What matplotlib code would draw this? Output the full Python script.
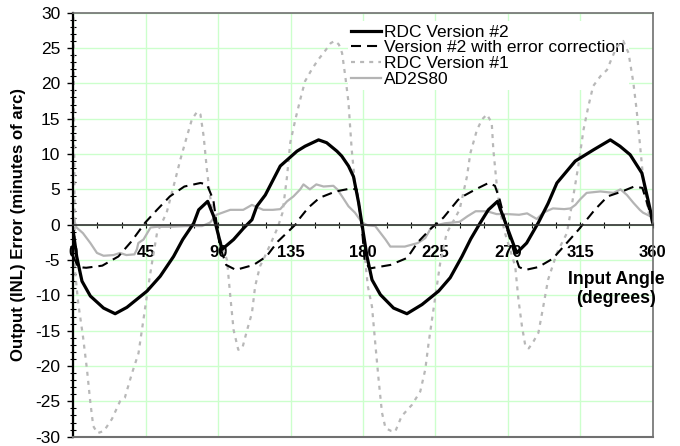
import matplotlib.pyplot as plt
from matplotlib.ticker import MultipleLocator

plt.rcParams['font.family'] = ['Liberation Sans', 'DejaVu Sans']
plt.rcParams['axes.unicode_minus'] = False

# RDC Version #2 (solid black)
v2_x = [0, 2.1, 5.4, 10.6, 18.8, 26, 33.3, 45.8, 54, 62.3, 68, 74.8, 77.9, 83.5, 87.2, 92.4,
        99.6, 105.8, 111, 114, 119.3, 128.6, 139, 144, 152.4, 157.4, 163.8, 166.8, 171, 174.1,
        177.3, 179.4, 182.5, 185.6, 190.8, 199, 207.3, 216.7, 227, 234.2, 241.5, 247, 252.7,
        257.9, 263.6, 267, 275.5, 281.7, 289, 295, 300.5, 311.9, 316.9, 323.3, 333.7, 339.7,
        346, 353.3, 357.5, 360]
v2_y = [-1.0, -4.5, -8.0, -10.1, -11.8, -12.6, -11.7, -9.4, -7.3, -4.5, -2.1, 0.2, 2.1, 3.3, 1.2, -3.5,
        -2.1, -0.5, 0.7, 2.6, 4.2, 8.3, 10.4, 11.1, 12.0, 11.6, 10.4, 9.7, 8.3, 6.8,
        3.1, 0.0, -4.5, -7.8, -9.9, -11.8, -12.6, -11.3, -9.4, -7.5, -4.5, -2.0, 0.2,
        2.1, 3.3, 1.2, -4.0, -2.6, 0.3, 3.0, 5.9, 9.0, 9.7, 10.6, 12.0, 11.1,
        9.9, 7.3, 3.1, 0.5]

# Version #2 with error correction (dashed black)
corr_x = [0, 3, 8, 18, 28, 36, 44.7, 52, 60, 69, 79, 83, 87, 91, 95, 101, 112, 120, 127, 138,
          140, 146, 153, 163, 172, 176, 179, 181, 184, 197, 207.5, 214, 222, 230, 239, 242, 250,
          258, 262, 265, 270, 274, 277, 281, 289, 298, 314, 319, 324, 332, 341, 348.5, 353.6,
          358, 360]
corr_y = [-4.5, -6.0, -6.1, -5.8, -4.5, -2.4, 0.3, 2.1, 4.0, 5.4, 5.9, 5.7, 3.5, -3.0, -5.7, -6.4,
          -5.7, -4.5, -2.4, 0.0, 0.7, 2.4, 3.8, 4.7, 5.1, 5.0, 0.5, -5.0, -6.2, -5.7, -4.7, -2.5,
          -0.6, 1.0, 3.5, 4.0, 5.0, 5.9, 5.5, 3.5, -1.0, -4.0, -6.0, -6.4, -6.0, -4.8, -0.7, 0.7,
          2.1, 4.0, 4.7, 5.4, 5.2, 2.0, 0.0]

# RDC Version #1 (dotted grey)
v1_x = [0, 1, 3, 6, 8.5, 10.6, 12.4, 15, 19, 24, 29, 32, 36.5, 40.5, 43.6, 46.6, 48.9, 52, 58,
        63.4, 66.5, 70.6, 73.7, 77, 79, 81, 83, 85, 87, 91, 95.5, 97.5, 99.6, 102.5, 105, 108,
        111, 113, 116, 119, 123, 127, 130, 132.8, 134.8, 138, 141, 144, 148, 152, 155.5, 160,
        162.6, 165, 167, 169, 171, 172, 173, 175, 178, 180.5, 183, 185.6, 187.6, 189.7, 191.8,
        194, 197.6, 200, 204, 210.4, 215.6, 218.7, 220.8, 222.9, 225, 228, 232, 240, 244.6,
        246.7, 250.8, 254, 257, 260, 261, 263, 265, 268, 274.6, 276.6, 278.8, 281, 283, 286,
        289, 292, 295, 300.5, 306.7, 310, 313.8, 317, 320, 323, 327.5, 331.6, 334.7, 337.8,
        341.7, 345, 348, 350, 352, 354, 357, 360]
v1_y = [32, -6.4, -11, -15.8, -20.5, -25.2, -28.5, -29.5, -29.2, -27.5, -25.0, -24.5, -21, -18.2,
        -13.4, -8.7, -5.4, -1.2, 1.7, 6.4, 9.2, 12.5, 14.9, 16.0, 15.6, 12.5, 7.8, 4.0, 1.2, -2,
        -5, -10, -14.9, -17.7, -17.5, -14.9, -12.5, -8.7, -5.9, -4.5, -2.5, -0.4, 1.7, 6.8,
        11.6, 14.9, 17.7, 20.3, 21.9, 23.3, 24.3, 25.7, 26.0, 25.5, 24.3, 21, 17.3, 13.9, 10.6,
        5.9, 2.1, -3, -8.7, -11.6, -16.7, -21.9, -26.6, -28.8, -29.2, -29.3, -27.1, -25.5,
        -23.6, -20.5, -16.7, -13.4, -10.1, -5.4, -1.2, 2.1, 6.8, 10.1, 13.4, 14.9, 15.6, 14.4,
        10.6, 5.9, 2.1, -1, -5.9, -10.6, -14.4, -17.3, -17.5, -16.5, -15.3, -11.6, -7.8, -4.0,
        -1.2, 3.1, 8.3, 13.4, 16.7, 19.6, 21.0, 21.9, 23.6, 25.2, 26.0, 24.3, 20.1, 16.3, 11.6,
        6.8, 2.1, 0.0]

# AD2S80 (solid grey)
ad_x = [0, 2, 6, 10.6, 14.7, 18.8, 25, 29, 33, 38, 39.5, 40.4, 43.6, 48, 52, 60, 70, 80, 85, 89,
        97.5, 105.6, 111, 118, 124, 128.6, 132.8, 136.8, 141, 143, 147, 151, 155.5, 161.6, 164,
        167, 171, 175, 179.4, 183, 187.6, 194, 197, 206, 214, 218.7, 222.9, 231, 240, 245, 250,
        257, 263, 269.5, 277, 282, 288, 292, 298, 305, 309, 312, 315, 319, 327.5, 335.7, 340,
        344, 348, 352, 354, 358.5, 360]
ad_y = [1.0, -0.4, -1.2, -2.6, -4.0, -4.4, -4.3, -4.0, -4.3, -4.2, -3.5, -2.6, -2.1, -0.4, -0.3,
        -0.3, -0.2, -0.2, 0.3, 1.4, 2.1, 2.1, 2.8, 2.1, 2.1, 2.2, 3.3, 4.0, 5.0, 5.7, 5.0, 5.7,
        5.4, 5.5, 5.0, 4.0, 2.6, 1.7, 0.3, -0.1, -0.2, -2.1, -3.1, -3.1, -2.6, -1.9, -0.2, 0.2,
        0.4, 1.2, 1.9, 1.9, 1.5, 1.5, 1.4, 1.6, 0.8, 1.7, 2.3, 2.2, 2.3, 2.8, 3.6, 4.5, 4.7, 4.5,
        5.0, 4.2, 3.1, 2.1, 1.7, 1.2, 0.7]

x_ticks = [0, 45, 90, 135, 180, 225, 270, 315, 360]
y_ticks = list(range(-30, 31, 5))

fig = plt.figure(figsize=(6.8, 4.46), dpi=100)
ax = fig.add_axes([0.1078, 0.0209, 0.852, 0.9507])
ax.set_axisbelow(True)

ax.plot(ad_x, ad_y, color='#b4b4b4', lw=1.6, label='AD2S80', zorder=2)
ax.plot(v1_x, v1_y, color='#b8b8b8', lw=1.6, ls=(0, (1.8, 2.3)), label='RDC Version #1', zorder=2.1)
ax.plot(corr_x, corr_y, color='black', lw=1.5, ls=(0, (4.8, 2.9)),
        label='Version #2 with error correction', zorder=2.2)
ax.plot(v2_x, v2_y, color='black', lw=2.3, label='RDC Version #2', zorder=2.3)

ax.set_xlim(0, 360)
ax.set_ylim(-30, 30)
ax.grid(True, which='major', color='#ccffcc', lw=1)

ax.xaxis.set_minor_locator(MultipleLocator(15))
ax.yaxis.set_minor_locator(MultipleLocator(1))
ax.set_xticks(x_ticks)
ax.set_yticks(y_ticks)

ax.spines['bottom'].set_position(('data', 0))
ax.spines['bottom'].set_color('#303030')
ax.spines['bottom'].set_linewidth(1.2)
ax.spines['left'].set_linewidth(1.6)
for s in ['top', 'right']:
    ax.spines[s].set_color('#707070')
    ax.spines[s].set_linewidth(1.2)
ax.axhline(-30, color='#707070', lw=1.5, clip_on=False, zorder=3)

ax.tick_params(axis='x', which='both', direction='inout', length=5, width=0.8, pad=12,
               labelsize=12)
ax.tick_params(axis='y', which='major', direction='out', length=4, width=1, labelsize=12.5, pad=5.5)
ax.tick_params(axis='y', which='minor', direction='inout', length=4, width=0.8)
for lab in ax.get_xticklabels():
    lab.set_fontweight('bold')

ax.set_ylabel('Output (INL) Error (minutes of arc)', fontsize=12.1, fontweight='bold')
ax.yaxis.set_label_coords(-0.081, 0.5)
fig.text(0.906, 0.352, 'Input Angle\n(degrees)', ha='center', va='center', fontsize=12.7,
         fontweight='bold', linespacing=1.2)

handles, labels = ax.get_legend_handles_labels()
leg = ax.legend(handles[::-1], labels[::-1], loc='upper left', bbox_to_anchor=(0.474, 0.980),
                borderaxespad=0, frameon=True, facecolor='white', edgecolor='none', framealpha=1,
                fancybox=False, borderpad=0.2, handlelength=1.72, handletextpad=0.17,
                labelspacing=0.03, fontsize=12.5)
leg.set_zorder(1)

fig.savefig('out.png', dpi=100)
